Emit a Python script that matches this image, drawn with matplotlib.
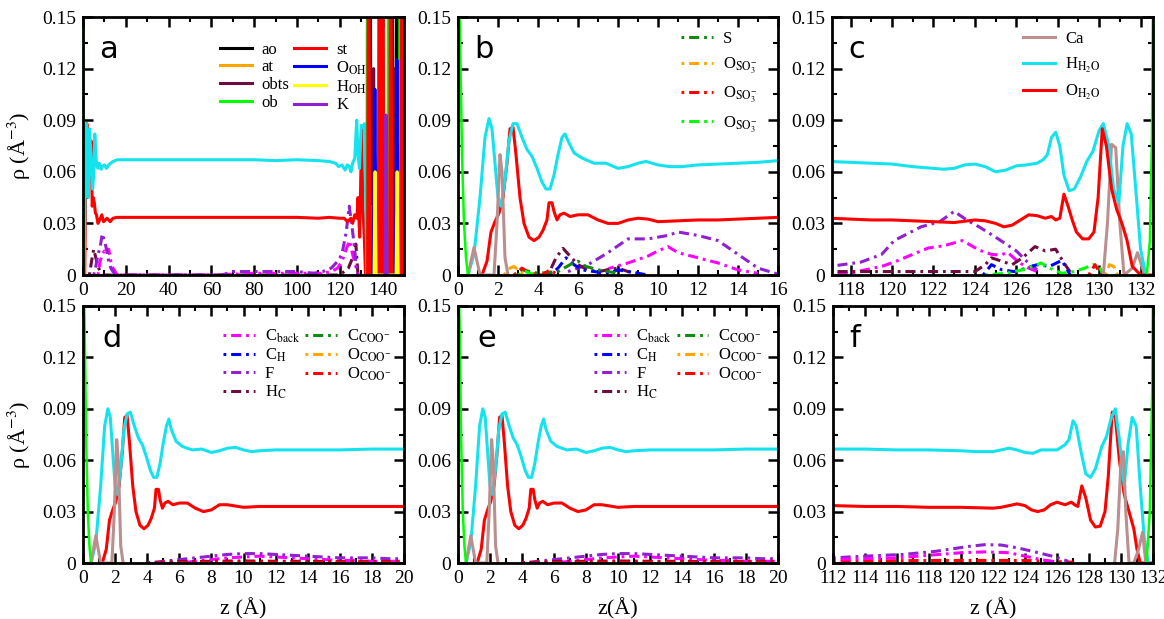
import numpy as np
import matplotlib
matplotlib.use("Agg")
from matplotlib import pyplot as plt
from matplotlib.ticker import MultipleLocator, FuncFormatter

plt.rcParams['font.family'] = ['Liberation Serif', 'DejaVu Sans']
plt.rcParams['mathtext.fontset'] = 'stix'

# colours
CYAN = '#14e3ee'
RED = '#ff0000'
CA = '#bc8f8f'
LIME = '#00ff00'
DGREEN = '#118a11'
ORANGE = '#ffa500'
MAG = '#ff00ff'
BLUE = '#0000ff'
PURP = '#9020d0'
MAROON = '#6e0b3f'
YEL = '#ffff00'

# ---------------- panel a : whole box ----------------
a_h_z = [0.5, 1.0, 1.5, 2.0, 2.5, 3.0, 3.5, 4.0, 4.5, 5.0, 5.5, 6.0, 6.5, 7.0, 7.5, 8.0, 8.5, 9.0,
         10.0, 11.0, 12.0, 13.0, 14.0, 16.0, 20, 30, 40, 50, 60, 70, 80, 90, 100, 110, 115, 118,
         119.5, 121, 122.5, 123.5, 124.5, 125.2, 126, 127, 127.9, 128.5, 129.2, 130, 131, 131.5, 132, 132.8]
a_h_r = [0.0, 0.05, 0.088, 0.06, 0.045, 0.085, 0.075, 0.06, 0.05, 0.058, 0.082, 0.070, 0.063, 0.062,
         0.065, 0.063, 0.0615, 0.063, 0.064, 0.062, 0.064, 0.065, 0.066, 0.067, 0.067, 0.067, 0.067,
         0.067, 0.067, 0.067, 0.067, 0.0665, 0.067, 0.0665, 0.066, 0.065, 0.063, 0.064, 0.061, 0.064,
         0.063, 0.060, 0.065, 0.068, 0.090, 0.070, 0.062, 0.087, 0.086, 0.088, 0.05, 0.0]
a_o_z = [0.8, 1.3, 1.8, 2.3, 2.8, 3.3, 3.8, 4.3, 4.8, 5.3, 5.8, 6.3, 7.0, 7.8, 8.8, 9.6, 10.5, 11.2,
         12.0, 12.7, 14.0, 15.8, 20, 30, 40, 50, 60, 70, 80, 90, 100, 110, 115, 120, 122, 123.6, 125.2,
         126, 127, 128, 128.5, 129.3, 130.2, 130.8, 131.5, 132]
a_o_r = [0.0, 0.06, 0.088, 0.05, 0.080, 0.065, 0.078, 0.040, 0.045, 0.042, 0.036, 0.035, 0.030, 0.032,
         0.035, 0.031, 0.032, 0.033, 0.032, 0.031, 0.033, 0.0335, 0.0335, 0.0335, 0.0335, 0.0335, 0.0335,
         0.0335, 0.0335, 0.0335, 0.0335, 0.033, 0.0335, 0.033, 0.033, 0.031, 0.033, 0.030, 0.035, 0.033,
         0.045, 0.022, 0.085, 0.04, 0.02, 0.0]
a_F_z = [5, 6, 7, 8, 9, 10, 11, 12, 13, 14, 15, 40, 65, 70, 80, 90, 100, 108, 112, 116, 119, 121, 123,
         124.4, 125.5, 126.5, 127.5, 128.5]
a_F_r = [0.0, 0.005, 0.012, 0.016, 0.024, 0.020, 0.015, 0.008, 0.004, 0.002, 0.0, 0.0, 0.0, 0.002,
         0.002, 0.002, 0.002, 0.001, 0.002, 0.004, 0.008, 0.012, 0.025, 0.040, 0.030, 0.020, 0.008, 0.0]
a_Cb_z = [7, 8, 9, 10, 11, 12, 13, 14, 15, 16, 60, 80, 100, 112, 116, 119, 121, 123, 124.5, 126, 127.5, 128.5]
a_Cb_r = [0.0, 0.008, 0.012, 0.014, 0.012, 0.015, 0.008, 0.004, 0.002, 0.0, 0.0, 0.001, 0.001, 0.001,
          0.002, 0.004, 0.008, 0.015, 0.020, 0.012, 0.005, 0.0]
a_Hc_z = [3, 4, 5, 6, 7, 8, 9, 120, 124, 126, 127.5, 128.5]
a_Hc_r = [0.0, 0.008, 0.015, 0.010, 0.005, 0.002, 0.0, 0.0, 0.004, 0.010, 0.018, 0.0]

# mineral slab spikes (panel a)
ob_z = [132.6, 133.1, 133.6, 142.4, 142.9, 143.4, 147.8, 148.3, 148.8]
ob_r = [0, 0.3, 0, 0, 0.3, 0, 0, 0.3, 0]
st_z = [133.0, 133.5, 134.0, 138.0, 138.5, 139.0, 139.6, 140.1, 140.6, 143.3, 143.8, 144.3, 148.6, 149.1, 149.6]
st_r = [0, 0.3, 0, 0, 0.3, 0, 0, 0.3, 0, 0, 0.3, 0, 0, 0.3, 0]
ao_z = [133.6, 134.1, 134.6, 138.8, 139.3, 139.8, 143.9, 144.4, 144.9, 146.2, 146.7, 147.2]
ao_r = [0, 0.3, 0, 0, 0.3, 0, 0, 0.3, 0, 0, 0.3, 0]
at_z = [134.5, 135.0, 135.5, 144.5, 145.0, 145.5]
at_r = [0, 0.04, 0, 0, 0.04, 0]
obts_z = [135.3, 135.8, 136.3, 145.3, 145.8, 146.3]
obts_r = [0, 0.12, 0, 0, 0.12, 0]
ooh_z = [135.8, 136.4, 137.0, 146.1, 146.7, 147.3]
ooh_r = [0, 0.108, 0, 0, 0.125, 0]
hoh_z = [136.0, 136.5, 137.0, 146.3, 146.8, 147.3]
hoh_r = [0, 0.06, 0, 0, 0.06, 0]
k_z = [141.1, 141.6, 142.1]
k_r = [0, 0.093, 0]

# ---------------- panel b : lower interface (SO3) ----------------
b_h_z = [0.5, 0.8, 1.1, 1.35, 1.55, 1.7, 1.85, 2.0, 2.15, 2.35, 2.55, 2.75, 2.95, 3.2, 3.45, 3.7, 3.95,
         4.2, 4.4, 4.6, 4.8, 5.0, 5.2, 5.35, 5.5, 5.8, 6.2, 6.8, 7.4, 8.0, 8.5, 9.0, 9.4, 10.0, 10.6,
         11.2, 12.0, 13.0, 14.0, 15.0, 16.0]
b_h_r = [0.0, 0.012, 0.045, 0.080, 0.091, 0.085, 0.065, 0.045, 0.040, 0.055, 0.078, 0.088, 0.088, 0.080,
         0.073, 0.069, 0.062, 0.054, 0.050, 0.050, 0.058, 0.070, 0.080, 0.082, 0.078, 0.071, 0.068, 0.065,
         0.065, 0.062, 0.063, 0.065, 0.066, 0.064, 0.063, 0.063, 0.064, 0.0645, 0.065, 0.0655, 0.0665]
b_o_z = [1.2, 1.45, 1.65, 1.85, 2.05, 2.25, 2.45, 2.6, 2.75, 2.9, 3.1, 3.3, 3.55, 3.8, 4.05, 4.25, 4.45,
         4.55, 4.7, 4.8, 4.95, 5.1, 5.3, 5.6, 6.0, 6.5, 7.0, 7.5, 8.0, 8.5, 9.0, 9.5, 10.0, 11.0, 12.0,
         13.0, 14.0, 15.0, 16.0]
b_o_r = [0.0, 0.008, 0.025, 0.031, 0.036, 0.045, 0.065, 0.085, 0.086, 0.070, 0.045, 0.030, 0.022, 0.020,
         0.022, 0.026, 0.032, 0.042, 0.042, 0.037, 0.032, 0.035, 0.036, 0.034, 0.035, 0.035, 0.032, 0.030,
         0.030, 0.032, 0.033, 0.0325, 0.031, 0.0315, 0.032, 0.032, 0.0325, 0.033, 0.0335]
b_ca_z = [0.5, 0.65, 0.8, 0.95, 1.1, 1.8, 1.95, 2.1, 2.2, 2.35, 2.5]
b_ca_r = [0.0, 0.008, 0.016, 0.008, 0.0, 0.0, 0.03, 0.070, 0.06, 0.01, 0.0]
wall_lo_z = [0.05, 0.1, 0.2, 0.3, 0.4, 0.5]
wall_lo_r = [0.16, 0.14, 0.07, 0.03, 0.01, 0.0]
b_F_z = [5.5, 6.5, 7.5, 8.5, 9.5, 10.5, 11.0, 12.0, 13.0, 14.0, 15.0, 16.0]
b_F_r = [0.002, 0.006, 0.013, 0.021, 0.021, 0.023, 0.025, 0.023, 0.020, 0.012, 0.004, 0.0005]
b_Cb_z = [7.0, 7.6, 8.5, 9.5, 10.0, 10.5, 11.0, 12.0, 13.0, 14.0, 15.0]
b_Cb_r = [0.0, 0.004, 0.007, 0.011, 0.014, 0.0165, 0.013, 0.010, 0.007, 0.003, 0.001]
b_Hc_z = [4.5, 4.9, 5.25, 5.6, 6.0, 6.5, 7.0, 7.5, 8.0, 8.5, 9.0]
b_Hc_r = [0.0, 0.010, 0.0155, 0.011, 0.006, 0.003, 0.002, 0.003, 0.004, 0.002, 0.001]
b_CH_z = [4.6, 5.0, 5.4, 5.8, 6.2, 6.8, 7.5, 8.0, 8.5, 9.5]
b_CH_r = [0.0, 0.004, 0.010, 0.006, 0.003, 0.002, 0.001, 0.003, 0.002, 0.0]
b_S_z = [2.8, 3.2, 4.0, 5.0, 5.6, 6.0, 6.4, 7.0, 7.5, 8.0]
b_S_r = [0.0, 0.003, 0.001, 0.002, 0.006, 0.008, 0.005, 0.003, 0.002, 0.001]
b_O1_z = [2.3, 2.6, 2.8, 3.0, 3.3]
b_O1_r = [0.0, 0.004, 0.005, 0.003, 0.0]
b_O2_z = [2.8, 3.2, 3.6, 4.2, 4.6, 5.0]
b_O2_r = [0.0, 0.004, 0.001, 0.0, 0.003, 0.0]
b_O3_z = [3.0, 3.4, 3.8]
b_O3_r = [0.0, 0.002, 0.0]

# ---------------- panel c : upper interface (SO3) ----------------
c_h_z = [117, 118, 119, 120, 121, 122, 122.5, 123, 123.5, 124, 124.5, 125, 125.5, 126, 126.5, 127, 127.3,
         127.5, 127.7, 127.9, 128.1, 128.3, 128.55, 128.8, 129.1, 129.4, 129.7, 130.0, 130.2, 130.45,
         130.7, 130.95, 131.15, 131.35, 131.55, 131.8, 132.0, 132.25]
c_h_r = [0.066, 0.0655, 0.065, 0.0645, 0.063, 0.062, 0.0615, 0.062, 0.064, 0.0645, 0.063, 0.060, 0.061,
         0.0635, 0.064, 0.065, 0.067, 0.070, 0.080, 0.083, 0.075, 0.058, 0.049, 0.050, 0.057, 0.066, 0.072,
         0.084, 0.088, 0.076, 0.050, 0.042, 0.075, 0.088, 0.082, 0.045, 0.015, 0.0]
c_o_z = [117, 118, 119, 120, 121, 122, 123, 124, 124.5, 125, 125.4, 125.8, 126.2, 126.6, 127.0, 127.4,
         127.7, 127.9, 128.1, 128.3, 128.5, 128.7, 128.9, 129.2, 129.5, 129.75, 129.95, 130.15, 130.35,
         130.6, 130.85, 131.1, 131.35, 131.6, 132.0, 132.6]
c_o_r = [0.033, 0.0325, 0.032, 0.032, 0.0315, 0.031, 0.0305, 0.032, 0.0315, 0.030, 0.028, 0.029, 0.032,
         0.035, 0.0345, 0.033, 0.034, 0.032, 0.033, 0.047, 0.040, 0.032, 0.025, 0.021, 0.021, 0.025, 0.045,
         0.085, 0.075, 0.050, 0.038, 0.030, 0.020, 0.005, 0.0, 0.0]
c_ca_z = [130.2, 130.4, 130.6, 130.8, 131.0, 131.2, 131.6, 131.85, 132.2]
c_ca_r = [0.0, 0.03, 0.076, 0.074, 0.03, 0.0, 0.004, 0.013, 0.0]
c_wall_z = [132.3, 132.45, 132.55, 132.6]
c_wall_r = [0.0, 0.02, 0.08, 0.16]
c_F_z = [117, 118.5, 119.5, 120.1, 121.4, 122.3, 123, 123.6, 124.2, 125, 125.5, 126, 126.5, 127]
c_F_r = [0.005, 0.0075, 0.012, 0.020, 0.028, 0.031, 0.037, 0.032, 0.028, 0.022, 0.018, 0.014, 0.008, 0.003]
c_Cb_z = [117, 118, 118.7, 119.5, 120.1, 121, 121.75, 122.5, 123.4, 124.2, 124.8, 125.2, 125.6, 126.1,
          126.6, 127.2]
c_Cb_r = [0.001, 0.001, 0.003, 0.005, 0.0075, 0.012, 0.0157, 0.017, 0.020, 0.0145, 0.012, 0.0116, 0.013,
          0.0075, 0.004, 0.001]
c_Hc_z = [117, 120, 123, 124, 124.5, 124.8, 125.3, 125.8, 126.3, 126.9, 127.4, 127.9, 128.3, 128.7]
c_Hc_r = [0.002, 0.002, 0.002, 0.002, 0.006, 0.010, 0.008, 0.006, 0.010, 0.0165, 0.014, 0.015, 0.007, 0.0]
c_CH_z = [124.4, 124.8, 125.3, 125.9, 126.5, 127.0, 127.6, 128.2, 128.6]
c_CH_r = [0.0, 0.006, 0.003, 0.002, 0.004, 0.006, 0.005, 0.0085, 0.0]
c_S_z = [124.5, 125.5, 126.3, 126.8, 127.2, 127.6, 128.2, 128.8, 129.3, 129.7, 130.0, 130.2]
c_S_r = [0.0, 0.001, 0.003, 0.005, 0.007, 0.004, 0.001, 0.002, 0.004, 0.006, 0.005, 0.0]
c_O1_z = [130.3, 130.5, 130.7, 130.9]
c_O1_r = [0.0, 0.006, 0.005, 0.0]
c_O2_z = [129.5, 129.8, 130.1]
c_O2_r = [0.0, 0.006, 0.0]

# ---------------- panels d, e : lower interface (COO) ----------------
d_h_z = [0.5, 0.8, 1.1, 1.35, 1.55, 1.7, 1.85, 2.0, 2.15, 2.35, 2.55, 2.75, 2.95, 3.2, 3.45, 3.7, 3.95,
         4.2, 4.4, 4.6, 4.8, 5.0, 5.2, 5.35, 5.5, 5.8, 6.2, 6.8, 7.4, 8.0, 8.5, 9.0, 9.5, 10.0, 10.5, 11.0,
         12.0, 14.0, 16.0, 18.0, 20.0]
d_h_r = [0.0, 0.012, 0.045, 0.080, 0.090, 0.085, 0.065, 0.045, 0.040, 0.055, 0.078, 0.087, 0.088, 0.080,
         0.073, 0.069, 0.062, 0.054, 0.050, 0.050, 0.058, 0.070, 0.080, 0.084, 0.078, 0.071, 0.068, 0.066,
         0.0665, 0.0645, 0.0655, 0.067, 0.0675, 0.066, 0.065, 0.0655, 0.066, 0.066, 0.066, 0.0665, 0.0665]
d_o_z = [1.2, 1.45, 1.65, 1.85, 2.05, 2.25, 2.45, 2.6, 2.75, 2.9, 3.1, 3.3, 3.55, 3.8, 4.05, 4.25, 4.45,
         4.55, 4.7, 4.8, 4.95, 5.1, 5.3, 5.6, 6.0, 6.5, 7.0, 7.5, 8.0, 8.5, 9.0, 10.0, 11.0, 12.0, 14.0,
         16.0, 18.0, 20.0]
d_o_r = [0.0, 0.008, 0.025, 0.031, 0.036, 0.045, 0.065, 0.085, 0.086, 0.070, 0.045, 0.030, 0.022, 0.020,
         0.022, 0.026, 0.032, 0.043, 0.043, 0.037, 0.032, 0.035, 0.036, 0.034, 0.035, 0.035, 0.032, 0.030,
         0.031, 0.034, 0.034, 0.0325, 0.033, 0.033, 0.033, 0.033, 0.033, 0.033]
d_ca_z = [0.5, 0.65, 0.8, 0.95, 1.1, 1.8, 1.95, 2.1, 2.2, 2.35, 2.5]
d_ca_r = [0.0, 0.008, 0.016, 0.008, 0.0, 0.0, 0.03, 0.072, 0.06, 0.01, 0.0]
d_F_z = [4, 5, 6, 7, 8, 9, 10, 11, 12, 13, 14, 15, 16, 17, 18, 19, 20]
d_F_r = [0.0, 0.001, 0.002, 0.003, 0.004, 0.005, 0.0055, 0.0055, 0.005, 0.0045, 0.004, 0.0035, 0.003,
         0.003, 0.003, 0.0025, 0.0025]
d_Cb_z = [6, 7, 8, 9, 10, 11, 12, 13, 14, 15, 16, 17, 18, 19, 20]
d_Cb_r = [0.0, 0.001, 0.002, 0.003, 0.0035, 0.004, 0.0035, 0.003, 0.0025, 0.002, 0.0015, 0.0015, 0.001,
          0.001, 0.001]
d_Hc_z = [4, 6, 8, 10, 12, 14, 16, 18, 20]
d_Hc_r = [0.0, 0.0008, 0.001, 0.0012, 0.001, 0.001, 0.0008, 0.0008, 0.0008]
d_CH_z = [4, 6, 8]
d_CH_r = [0.0, 0.0005, 0.0]
d_Cc_z = [0.1, 0.2]
d_Cc_r = [0.0, 0.0]
d_Oc1_z = [2.0, 2.5]
d_Oc1_r = [0.0, 0.0]
d_Oc2_z = [4, 8, 12, 16, 20]
d_Oc2_r = [0.0, 0.0005, 0.0005, 0.0005, 0.0005]

# ---------------- panel f : upper interface (COO) ----------------
f_h_z = [112, 114, 116, 118, 120, 121, 122, 122.5, 123, 123.5, 124, 124.5, 125, 126, 126.5, 126.75, 127.0,
         127.2, 127.5, 127.8, 128.1, 128.4, 128.8, 129.1, 129.4, 129.65, 129.9, 130.2, 130.45, 130.7,
         130.95, 131.2, 131.45, 131.7]
f_h_r = [0.0665, 0.0665, 0.066, 0.066, 0.0655, 0.065, 0.065, 0.066, 0.067, 0.066, 0.0645, 0.064, 0.066,
         0.066, 0.069, 0.072, 0.083, 0.080, 0.065, 0.052, 0.050, 0.055, 0.068, 0.074, 0.085, 0.090, 0.072,
         0.045, 0.070, 0.085, 0.080, 0.045, 0.015, 0.0]
f_o_z = [112, 114, 116, 118, 120, 122, 122.5, 123, 123.5, 124, 124.4, 124.8, 125.2, 125.6, 126.0, 126.5,
         126.9, 127.1, 127.3, 127.55, 127.8, 128.1, 128.4, 128.7, 129.0, 129.2, 129.45, 129.65, 129.9,
         130.2, 130.5, 130.8, 131.0, 131.2, 131.4, 132]
f_o_r = [0.0335, 0.033, 0.033, 0.0325, 0.0325, 0.032, 0.0325, 0.0335, 0.0345, 0.0335, 0.031, 0.030,
         0.031, 0.034, 0.0355, 0.034, 0.0355, 0.034, 0.033, 0.045, 0.038, 0.025, 0.021, 0.0215, 0.030,
         0.050, 0.088, 0.085, 0.060, 0.040, 0.030, 0.020, 0.008, 0.0, 0.0, 0.0]
f_ca_z = [129.6, 129.8, 130.0, 130.15, 130.3, 130.5, 130.8, 131.1, 131.35, 131.55]
f_ca_r = [0.0, 0.02, 0.060, 0.065, 0.03, 0.0, 0.0, 0.008, 0.018, 0.0]
f_wall_z = [131.6, 131.8, 131.95, 132.0]
f_wall_r = [0.0, 0.03, 0.10, 0.16]
f_F_z = [112, 114, 116.4, 118.4, 120.5, 121.5, 122.5, 123.6, 124.6, 125.7, 126.7]
f_F_r = [0.003, 0.004, 0.005, 0.0068, 0.0097, 0.0107, 0.0105, 0.0087, 0.0065, 0.004, 0.001]
f_Cb_z = [112, 114, 116, 118, 120, 121.5, 123, 124, 125, 126]
f_Cb_r = [0.002, 0.0025, 0.003, 0.0045, 0.006, 0.0065, 0.006, 0.004, 0.002, 0.0005]
f_Oc_z = [112, 118, 124, 127]
f_Oc_r = [0.001, 0.0015, 0.0015, 0.0005]

DD = (4.9, (3.3, 1.6, 0.9, 1.6))  # dot then dash


def setup(ax, xlim, major, minor, letter, lx=0.05):
    ax.set_xlim(*xlim)
    ax.set_ylim(0, 0.15)
    ax.xaxis.set_major_locator(MultipleLocator(major))
    ax.xaxis.set_minor_locator(MultipleLocator(minor))
    ax.yaxis.set_major_locator(MultipleLocator(0.03))
    ax.yaxis.set_minor_locator(MultipleLocator(0.015))
    ax.yaxis.set_major_formatter(FuncFormatter(lambda v, p: '0' if abs(v) < 1e-9 else '%.2f' % v))
    ax.tick_params(which='both', direction='in', top=True, right=True, labelsize=14, pad=5)
    ax.tick_params(which='major', length=7, width=1.8)
    ax.tick_params(which='minor', length=3.5, width=1.5)
    for s in ax.spines.values():
        s.set_linewidth(2.0)
    ax.text(lx, 0.84, letter, transform=ax.transAxes, fontsize=22, family='DejaVu Sans')


def dd(ax, z, r, c, lab=None):
    ax.plot(z, r, color=c, lw=2.2, linestyle=DD, label=lab)


def water(ax, hz, hr, oz, orr, cz, cr, wz, wr):
    ax.plot(oz, orr, color=RED, lw=2.2)
    ax.plot(hz, hr, color=CYAN, lw=2.2)
    ax.plot(cz, cr, color=CA, lw=2.2)
    ax.plot(wz, wr, color=LIME, lw=1.8)


fig = plt.figure(figsize=(11.64, 6.19), dpi=100)
w1 = 321 / 1164
w2 = 320 / 1164
top_b, top_h = 1 - 275 / 619, 258 / 619
bot_b, bot_h = 1 - 563 / 619, 257 / 619
axa = fig.add_axes([83 / 1164, top_b, w1, top_h])
axb = fig.add_axes([458 / 1164, top_b, w2, top_h])
axc = fig.add_axes([832 / 1164, top_b, 321 / 1164, top_h])
axd = fig.add_axes([83 / 1164, bot_b, w1, bot_h])
axe = fig.add_axes([458 / 1164, bot_b, w2, bot_h])
axf = fig.add_axes([833 / 1164, bot_b, w2, bot_h])

# ---- a
dd(axa, a_Hc_z, a_Hc_r, MAROON)
dd(axa, a_Cb_z, a_Cb_r, MAG)
dd(axa, a_F_z, a_F_r, PURP)
axa.plot(a_o_z, a_o_r, color=RED, lw=2.2)
axa.plot(a_h_z, a_h_r, color=CYAN, lw=2.2)
axa.plot(wall_lo_z, wall_lo_r, color=LIME, lw=1.8)
axa.plot(ao_z, ao_r, color='black', lw=2.2, label='ao')
axa.plot(at_z, at_r, color=ORANGE, lw=2.2, label='at')
axa.plot(obts_z, obts_r, color=MAROON, lw=2.2, label='obts')
axa.plot(ob_z, ob_r, color=LIME, lw=2.2, label='ob')
axa.plot(st_z, st_r, color=RED, lw=2.2, label='st')
axa.plot(ooh_z, ooh_r, color=BLUE, lw=2.2, label=r'O$_{\rm OH}$')
axa.plot(hoh_z, hoh_r, color=YEL, lw=2.2, label=r'H$_{\rm OH}$')
axa.plot(k_z, k_r, color=PURP, lw=2.2, label='K')
setup(axa, (0, 150), 20, 10, 'a')
axa.legend(ncol=2, loc='upper left', bbox_to_anchor=(0.39, 0.95), frameon=False, fontsize=12,
           handlelength=1.9, handletextpad=0.6, columnspacing=0.3, labelspacing=0.1, borderpad=0.2)

# ---- b
dd(axb, b_F_z, b_F_r, PURP)
dd(axb, b_Cb_z, b_Cb_r, MAG)
dd(axb, b_Hc_z, b_Hc_r, MAROON)
dd(axb, b_CH_z, b_CH_r, BLUE)
dd(axb, b_S_z, b_S_r, DGREEN, 'S')
dd(axb, b_O1_z, b_O1_r, ORANGE, r'O$_{\rm SO_3^{-}}$')
dd(axb, b_O2_z, b_O2_r, RED, r'O$_{\rm SO_3^{-}}$')
dd(axb, b_O3_z, b_O3_r, LIME, r'O$_{\rm SO_3^{-}}$')
water(axb, b_h_z, b_h_r, b_o_z, b_o_r, b_ca_z, b_ca_r, wall_lo_z, wall_lo_r)
setup(axb, (0, 16), 2, 1, 'b')
axb.legend(loc='upper left', bbox_to_anchor=(0.66, 0.99), frameon=False, fontsize=12,
           handlelength=1.9, handletextpad=0.6, labelspacing=0.5, borderpad=0.2)

# ---- c
dd(axc, c_F_z, c_F_r, PURP)
dd(axc, c_Cb_z, c_Cb_r, MAG)
dd(axc, c_Hc_z, c_Hc_r, MAROON)
dd(axc, c_CH_z, c_CH_r, BLUE)
dd(axc, c_S_z, c_S_r, LIME)
dd(axc, c_O1_z, c_O1_r, ORANGE)
dd(axc, c_O2_z, c_O2_r, RED)
axc.plot(c_ca_z, c_ca_r, color=CA, lw=2.2, label='Ca')
axc.plot(c_h_z, c_h_r, color=CYAN, lw=2.2, label=r'H$_{\rm H_2O}$')
axc.plot(c_o_z, c_o_r, color=RED, lw=2.2, label=r'O$_{\rm H_2O}$')
axc.plot(c_wall_z, c_wall_r, color=LIME, lw=1.8)
setup(axc, (117.1, 132.6), 2, 1, 'c')
axc.legend(loc='upper left', bbox_to_anchor=(0.56, 0.99), frameon=False, fontsize=12,
           handlelength=1.9, handletextpad=0.6, labelspacing=0.5, borderpad=0.2)

# ---- d and e
for ax, letter in [(axd, 'd'), (axe, 'e')]:
    dd(ax, d_Cb_z, d_Cb_r, MAG, r'C$_{\rm back}$')
    dd(ax, d_CH_z, d_CH_r, BLUE, r'C$_{\rm H}$')
    dd(ax, d_F_z, d_F_r, PURP, 'F')
    dd(ax, d_Hc_z, d_Hc_r, MAROON, r'H$_{\rm C}$')
    dd(ax, d_Cc_z, d_Cc_r, DGREEN, r'C$_{\rm COO^{-}}$')
    dd(ax, d_Oc1_z, d_Oc1_r, ORANGE, r'O$_{\rm COO^{-}}$')
    dd(ax, d_Oc2_z, d_Oc2_r, RED, r'O$_{\rm COO^{-}}$')
    water(ax, d_h_z, d_h_r, d_o_z, d_o_r, d_ca_z, d_ca_r, wall_lo_z, wall_lo_r)
    setup(ax, (0, 20), 2, 1, letter, 0.06)
axd.legend(ncol=2, loc='upper left', bbox_to_anchor=(0.4, 0.96), frameon=False, fontsize=12,
           handlelength=1.9, handletextpad=0.6, columnspacing=0.3, labelspacing=0.1, borderpad=0.2)
axe.legend(ncol=2, loc='upper left', bbox_to_anchor=(0.39, 0.96), frameon=False, fontsize=12,
           handlelength=1.9, handletextpad=0.6, columnspacing=0.3, labelspacing=0.1, borderpad=0.2)

# ---- f
dd(axf, f_Oc_z, f_Oc_r, RED)
dd(axf, f_F_z, f_F_r, PURP)
dd(axf, f_Cb_z, f_Cb_r, MAG)
water(axf, f_h_z, f_h_r, f_o_z, f_o_r, f_ca_z, f_ca_r, f_wall_z, f_wall_r)
setup(axf, (112, 132), 2, 1, 'f')
axf.tick_params(axis='x', labelsize=13.5)

ylab = 'ρ (Å$^{-3}$)'
axa.set_ylabel(ylab, fontsize=16, labelpad=6)
axd.set_ylabel(ylab, fontsize=16, labelpad=6)
axd.set_xlabel('z (Å)', fontsize=16, labelpad=8)
axe.set_xlabel('z(Å)', fontsize=16, labelpad=8)
axf.set_xlabel('z (Å)', fontsize=16, labelpad=8)

fig.savefig('out.png', dpi=100)
